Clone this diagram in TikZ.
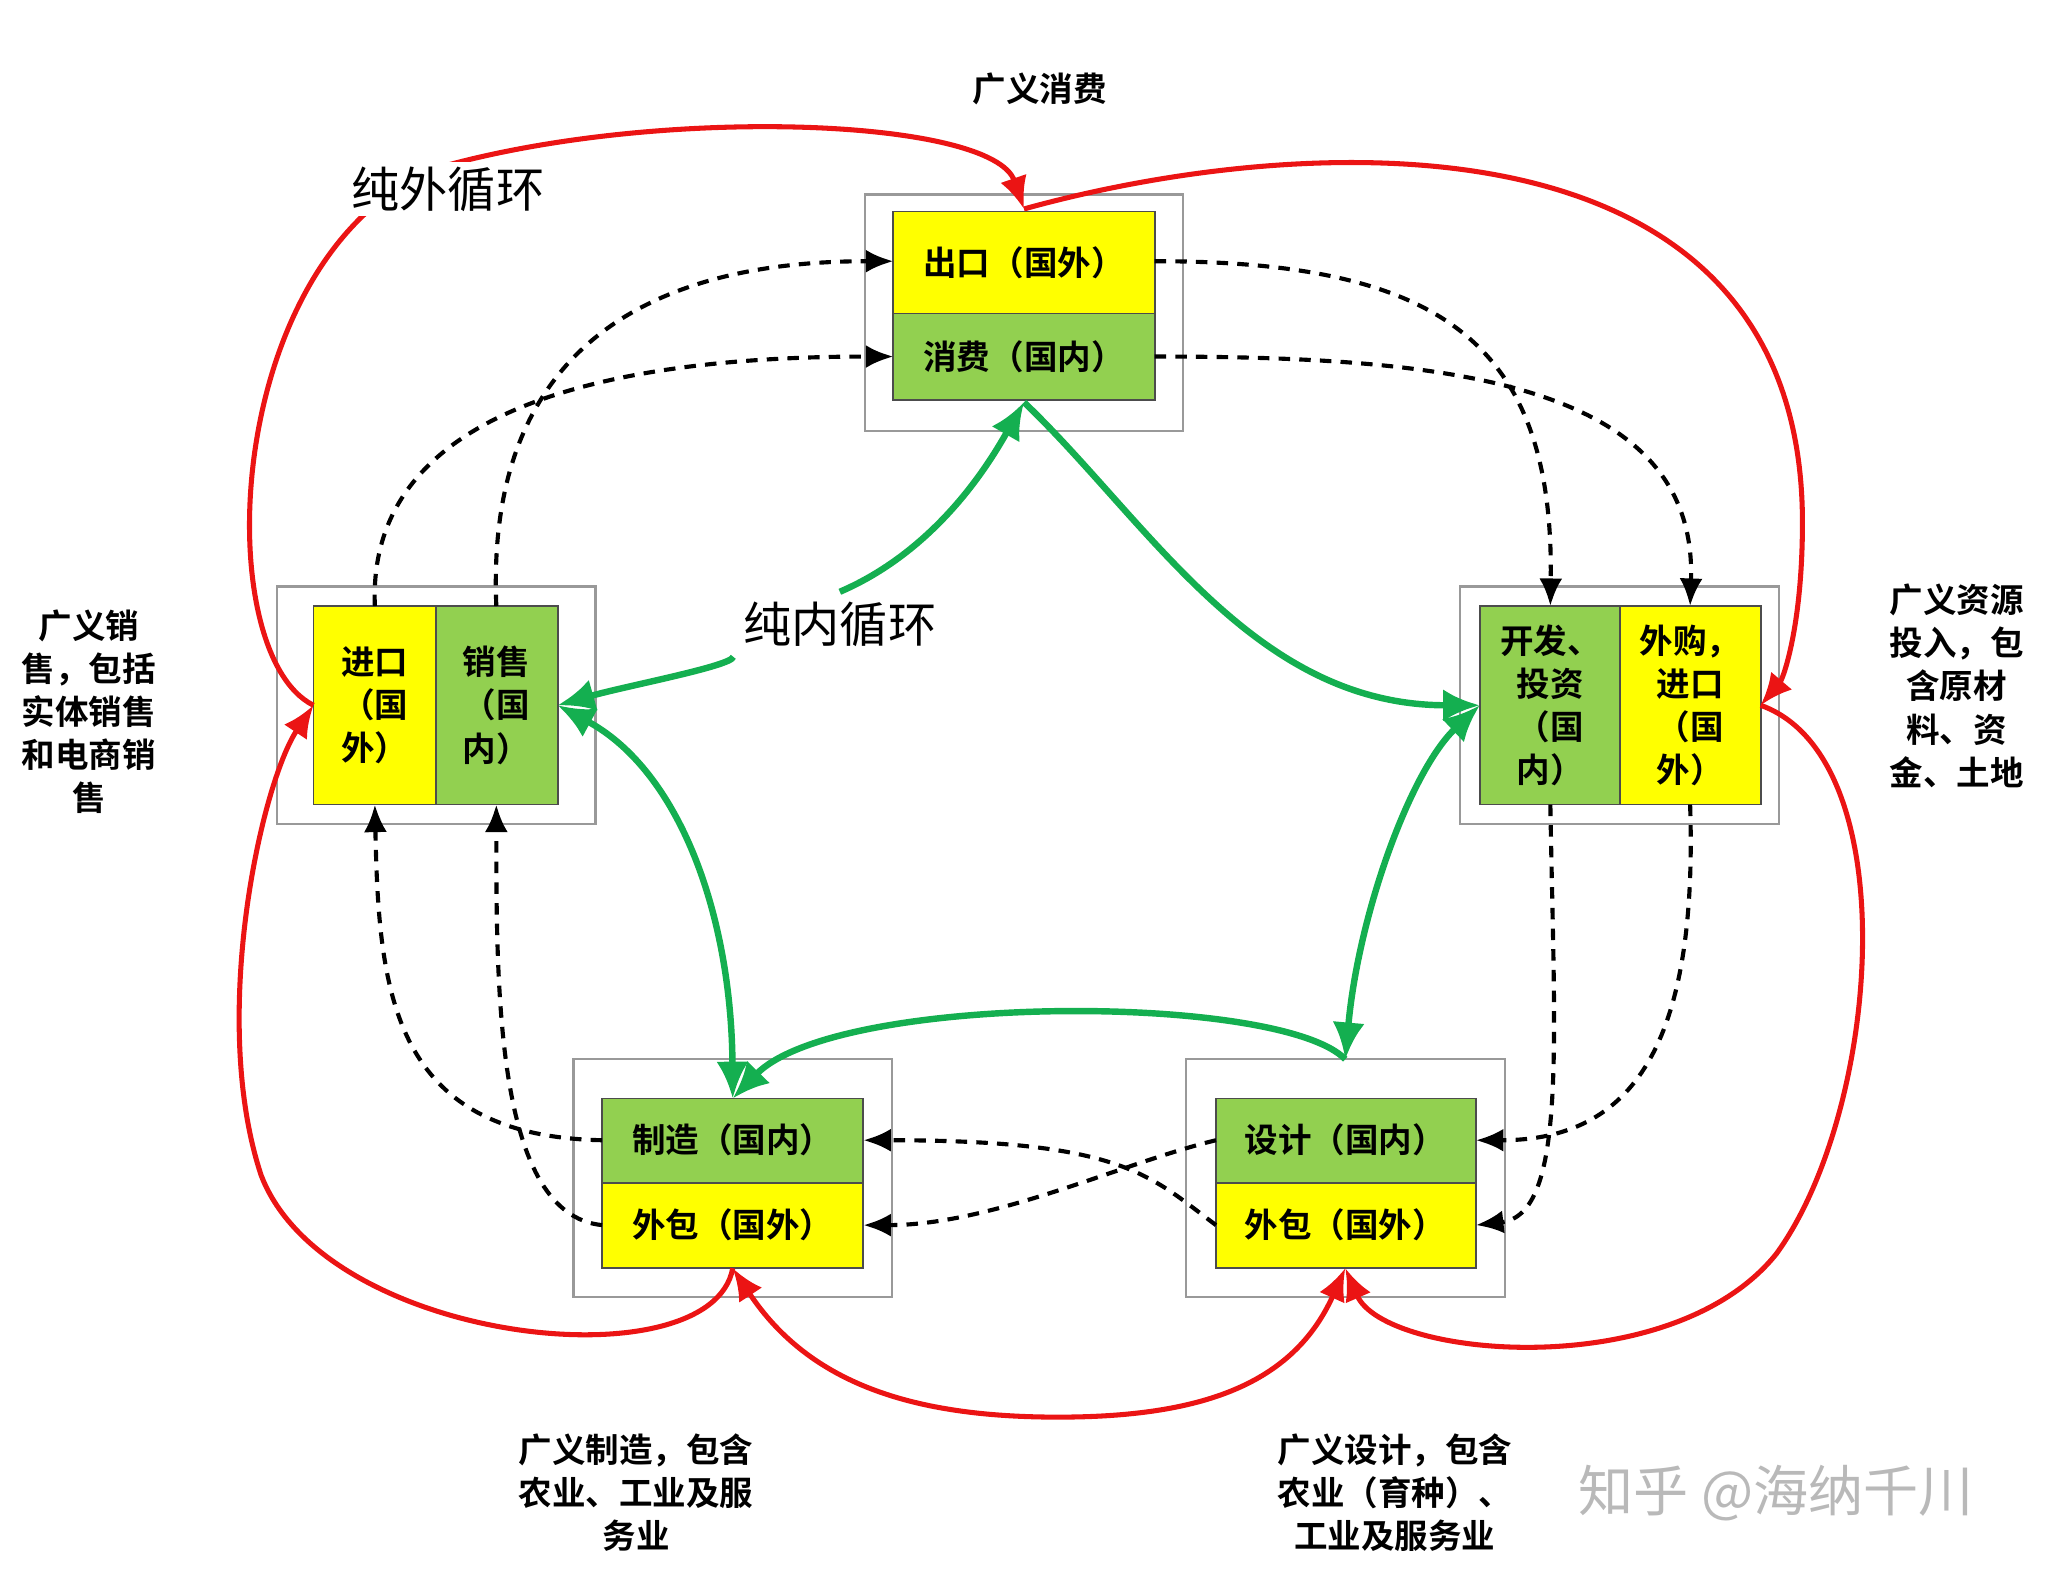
\documentclass[tikz,border=0pt]{standalone}
\usepackage{fontspec}
\setmainfont{Noto Sans CJK SC}
\newfontfamily\cjkb{Noto Sans CJK SC Bold}
\usetikzlibrary{arrows.meta}
\definecolor{yel}{RGB}{255,255,0}
\definecolor{grn}{RGB}{146,208,80}
\definecolor{rd}{RGB}{235,20,20}
\definecolor{gl}{RGB}{20,175,80}
\begin{document}
\begin{tikzpicture}[x=0.01cm,y=-0.01cm,
 outer/.style={draw=gray!80,line width=0.5pt},
 cell/.style={draw=black!70,line width=0.4pt},
 bt/.style={font=\cjkb\fontsize{7.3}{9.4}\selectfont,align=center,inner sep=0pt},
 lab/.style={font=\cjkb\fontsize{7.3}{9.4}\selectfont,align=center},
 redl/.style={draw=rd,line width=1.1pt,-{Latex[length=7pt,width=6pt]}},
 grl/.style={draw=gl,line width=1.4pt,-{Latex[length=8pt,width=7pt]}},
 dot/.style={draw=black,line width=0.9pt,dash pattern=on 2.5pt off 2pt,-{Latex[length=6pt,width=5pt]}}]
\useasboundingbox (0,0) rectangle (1568,1207);
% top
\draw[outer] (662,149) rectangle (906,330);
\draw[cell,fill=yel] (684,162) rectangle (884,240);
\draw[cell,fill=grn] (684,240) rectangle (884,306);
\node[bt] (tex) at (784,201) {出口（国外）};
\node[bt] (tcon) at (784,273) {消费（国内）};
\coordinate (tT) at (784,160); \coordinate (tB) at (784,308);
\coordinate (tYL) at (684,200); \coordinate (tYR) at (884,200);
\coordinate (tGL) at (684,273); \coordinate (tGR) at (884,273);
% left
\draw[outer] (212,449) rectangle (456,631);
\draw[cell,fill=yel] (240,464) rectangle (334,616);
\draw[cell,fill=grn] (334,464) rectangle (427,616);
\node[bt] (lim) at (287,540) {进口\\（国\\外）};
\node[bt] (lsa) at (380,540) {销售\\（国\\内）};
\coordinate (lL) at (240,540); \coordinate (lR) at (427,540);
\coordinate (lYT) at (287,464); \coordinate (lGT) at (380,464);
\coordinate (lYB) at (287,616); \coordinate (lGB) at (380,616);
% right
\draw[outer] (1118,449) rectangle (1362,631);
\draw[cell,fill=grn] (1133,464) rectangle (1240,616);
\draw[cell,fill=yel] (1240,464) rectangle (1348,616);
\node[bt] (rdv) at (1187,540) {开发、\\投资\\（国\\内）};
\node[bt] (rbu) at (1294,540) {外购，\\进口\\（国\\外）};
\coordinate (rL) at (1133,540); \coordinate (rR) at (1348,540);
\coordinate (rGT) at (1187,464); \coordinate (rYT) at (1294,464);
\coordinate (rGB) at (1187,616); \coordinate (rYB) at (1294,616);
% bottom left
\draw[outer] (439,811) rectangle (683,993);
\draw[cell,fill=grn] (461,841) rectangle (661,906);
\draw[cell,fill=yel] (461,906) rectangle (661,971);
\node[bt] (bmf) at (561,873) {制造（国内）};
\node[bt] (bou) at (561,938) {外包（国外）};
\coordinate (blT) at (561,841); \coordinate (blB) at (561,971);
\coordinate (blGL) at (461,873); \coordinate (blGR) at (661,873);
\coordinate (blYL) at (461,938); \coordinate (blYR) at (661,938);
% bottom right
\draw[outer] (908,811) rectangle (1152,993);
\draw[cell,fill=grn] (931,841) rectangle (1130,906);
\draw[cell,fill=yel] (931,906) rectangle (1130,971);
\node[bt] (bds) at (1030,873) {设计（国内）};
\node[bt] (bo2) at (1030,938) {外包（国外）};
\coordinate (brT) at (1030,811); \coordinate (brB) at (1030,971);
\coordinate (brGL) at (931,873); \coordinate (brGR) at (1130,873);
\coordinate (brYL) at (931,938); \coordinate (brYR) at (1130,938);
% labels
\node[lab] (l1) at (796,68) {广义消费};
\node[lab] (l2) at (68,545) {广义销\\售，包括\\实体销售\\和电商销\\售};
\node[lab] (l3) at (1498,525) {广义资源\\投入，包\\含原材\\料、资\\金、土地};
\node[lab] (l4) at (487,1143) {广义制造，包含\\农业、工业及服\\务业};
\node[lab] (l5) at (1068,1143) {广义设计，包含\\农业（育种）、\\工业及服务业};
\node[font=\fontsize{12}{14}\selectfont,text=gray!55] (wm) at (1360,1143) {知乎 @海纳千川};
% dotted
\draw[dot] (lYT) .. controls (280,300) and (500,273) .. (tGL);
\draw[dot] (lGT) .. controls (370,230) and (550,200) .. (tYL);
\draw[dot] (tYR) .. controls (1100,200) and (1190,260) .. (rGT);
\draw[dot] (tGR) .. controls (1100,273) and (1300,290) .. (rYT);
\draw[dot] (rGB) .. controls (1190,800) and (1200,930) .. (brYR);
\draw[dot] (rYB) .. controls (1300,800) and (1250,873) .. (brGR);
\draw[dot] (brGL) .. controls (860,890) and (760,938) .. (blYR);
\draw[dot] (brYL) .. controls (880,900) and (860,873) .. (blGR);
\draw[dot] (blGL) .. controls (300,870) and (290,760) .. (lYB);
\draw[dot] (blYL) .. controls (380,930) and (380,760) .. (lGB);
% red
\draw[redl] (lL) .. controls (160,500) and (170,200) .. (330,130) .. controls (500,80) and (760,90) .. (tT);
\node[font=\fontsize{10.5}{12}\selectfont,fill=white,inner sep=1pt] (pw) at (343,145) {纯外循环};
\draw[redl] (tT) .. controls (1000,100) and (1380,80) .. (1380,400) .. controls (1380,480) and (1365,520) .. (rR);
\draw[redl] (blB) .. controls (545,1060) and (250,1030) .. (200,900) .. controls (160,780) and (200,600) .. (lL);
\draw[redl,{Latex[length=7pt,width=6pt]}-{Latex[length=7pt,width=6pt]}] (blB) .. controls (620,1060) and (700,1085) .. (810,1085) .. controls (920,1085) and (990,1060) .. (brB);
\draw[redl] (rR) .. controls (1460,580) and (1440,850) .. (1360,960) .. controls (1280,1060) and (1060,1040) .. (brB);
% green
\node[font=\fontsize{10.5}{12}\selectfont,inner sep=2pt] (pn) at (643,478) {纯内循环};
\draw[grl] (pn.south west) .. controls (560,510) and (480,525) .. (lR);
\draw[grl] (pn.north) .. controls (720,420) and (760,350) .. (tB);
\draw[grl] (tB) .. controls (880,400) and (960,540) .. (rL);
\draw[grl,{Latex[length=8pt,width=7pt]}-{Latex[length=8pt,width=7pt]}] (lR) .. controls (520,590) and (560,700) .. (blT);
\draw[grl,{Latex[length=8pt,width=7pt]}-{Latex[length=8pt,width=7pt]}] (rL) .. controls (1080,590) and (1040,700) .. (brT);
\draw[grl] (brT) .. controls (980,760) and (640,760) .. (blT);
\end{tikzpicture}
\end{document}
